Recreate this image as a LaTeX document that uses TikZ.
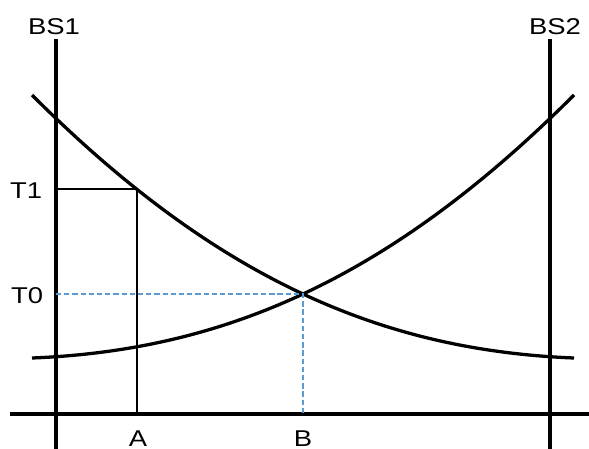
\documentclass[tikz,border=0pt]{standalone}
\usepackage{fontspec}
\setmainfont[FakeStretch=1.2]{Liberation Sans}
\definecolor{projblue}{RGB}{91,155,213}

\begin{document}
\begin{tikzpicture}[
    x=0.03cm, y=-0.03cm,
    station/.style={line width=3pt},
    curve/.style={line width=2.8pt},
    guide/.style={line width=1.7pt},
    projline/.style={line width=1.6pt, color=projblue, dash pattern=on 4.5pt off 2.5pt},
    lbl/.style={font=\fontsize{19.5}{23}\selectfont, inner sep=0pt, anchor=base},
]
    \useasboundingbox (0,0) rectangle (589,448);

    \coordinate (bs1top) at (56,39);
    \coordinate (bs1bot) at (56,460);
    \coordinate (bs2top) at (550,39);
    \coordinate (bs2bot) at (550,460);
    \coordinate (axl) at (10,414);
    \coordinate (axr) at (595,414);

    \coordinate (t1) at (56,189);
    \coordinate (p1) at (137,189);
    \coordinate (a) at (137,414);
    \coordinate (t0) at (56,294);
    \coordinate (x) at (303,294);
    \coordinate (b) at (303,414);

    \node[lbl] (bs1) at (54,34) {BS1};
    \node[lbl] (bs2) at (555,34) {BS2};
    \node[lbl] (T1) at (26,198) {T1};
    \node[lbl] (T0) at (27,303) {T0};
    \node[lbl] (A) at (138,446) {A};
    \node[lbl] (B) at (303,446) {B};

    \draw[station] (bs1top) -- (bs1bot);
    \draw[station] (bs2top) -- (bs2bot);
    \draw[station] (axl) -- (axr);

    % delay from BS1 falls, delay from BS2 rises
    \draw[curve] (32,95) .. controls (219.5,282.5) and (386.5,350.5) .. (574,358);
    \draw[curve] (32,358) .. controls (219.5,350.5) and (386.5,282.5) .. (574,95);

    \draw[guide] (t1) -- (p1) -- (a);
    \draw[projline] (t0) -- (x) -- (b);
\end{tikzpicture}
\end{document}
